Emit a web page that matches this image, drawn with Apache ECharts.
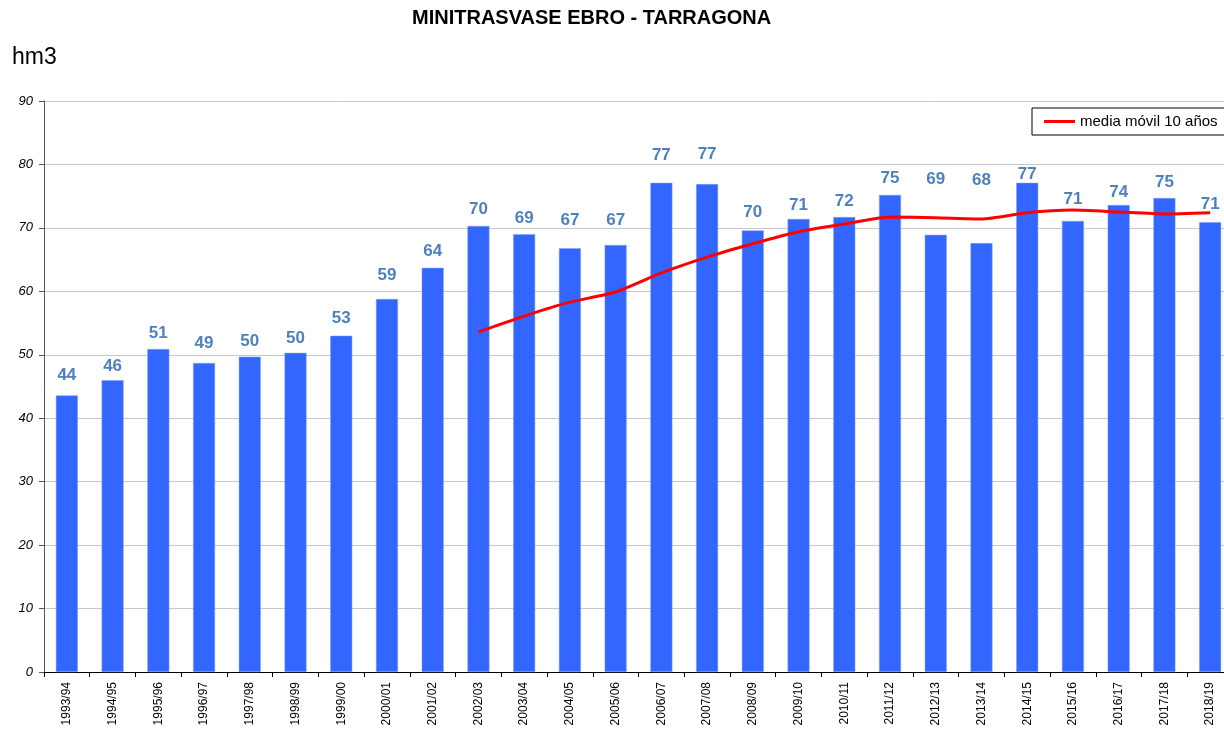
<!DOCTYPE html>
<html>
<head>
<meta charset="utf-8">
<script src="https://cdn.jsdelivr.net/npm/echarts@6/dist/echarts.min.js"></script>
<style>
  html, body { margin: 0; padding: 0; background: #fff; overflow: hidden; }
  #chart { width: 1240px; height: 732px; }
</style>
</head>
<body>
<div id="chart"></div>
<script>
// campañas hidrológicas
var campanas = ["1993/94","1994/95","1995/96","1996/97","1997/98","1998/99","1999/00","2000/01","2001/02","2002/03",
  "2003/04","2004/05","2005/06","2006/07","2007/08","2008/09","2009/10","2010/11","2011/12","2012/13",
  "2013/14","2014/15","2015/16","2016/17","2017/18","2018/19"];
// volumen anual (hm3)
var volumen = [43.6, 46.0, 50.9, 48.7, 49.7, 50.3, 53.0, 58.8, 63.7, 70.3,
  69.0, 66.8, 67.3, 77.1, 76.9, 69.6, 71.4, 71.7, 75.2, 68.9,
  67.6, 77.1, 71.1, 73.6, 74.7, 70.9];
// media movil 10 años
var mediaMovil = [null, null, null, null, null, null, null, null, null, 53.6,
  56.1, 58.3, 59.9, 62.9, 65.4, 67.5, 69.4, 70.6, 71.7, 71.6,
  71.4, 72.4, 72.8, 72.5, 72.2, 72.4];
var ejeY = [0, 10, 20, 30, 40, 50, 60, 70, 80, 90];

// separacion (px) entre la etiqueta y la barra, como en el original
var sepEtiqueta = [21, 15, 17, 21, 16, 16, 18, 25, 18, 18,
  17, 29, 26, 29, 31, 19, 15, 17, 18, 57,
  64, 10, 23, 14, 17, 19];

var datosBarras = volumen.map(function (v, i) {
  return { value: v, label: { distance: sepEtiqueta[i] - 9.5 } };
});

var myChart = echarts.init(document.getElementById("chart"));
var option = {
  animation: false,
  textStyle: { fontFamily: "Liberation Sans, Arial, sans-serif" },
  title: [
    {
      text: "MINITRASVASE EBRO - TARRAGONA",
      left: 407,
      top: 3,
      textStyle: { fontSize: 20, fontWeight: "bold", color: "#000" }
    },
    {
      text: "hm3",
      left: 7,
      top: 41,
      textStyle: { fontSize: 23, fontWeight: "normal", color: "#000" }
    }
  ],
  legend: {
    left: 1032,
    top: 108,
    data: [{ name: "media móvil 10 años", icon: "rect" }],
    itemWidth: 31,
    itemHeight: 3,
    itemGap: 4,
    padding: [6, 30, 6, 12],
    borderColor: "#000",
    borderWidth: 1,
    textStyle: { fontSize: 15, color: "#000" }
  },
  grid: {
    left: 44,
    top: 101,
    right: 7,
    bottom: 60,
    containLabel: false
  },
  xAxis: {
    type: "category",
    data: campanas,
    boundaryGap: true,
    axisLine: { lineStyle: { color: "#000", width: 1 } },
    axisTick: { show: true, alignWithLabel: false, length: 5, lineStyle: { color: "#000" } },
    axisLabel: { rotate: 90, interval: 0, fontSize: 12, color: "#000", margin: 10 }
  },
  yAxis: {
    type: "value",
    min: ejeY[0],
    max: ejeY[ejeY.length - 1],
    interval: 10,
    axisLine: { show: true, lineStyle: { color: "#555", width: 1 } },
    axisTick: { show: true, length: 5, lineStyle: { color: "#555" } },
    axisLabel: { fontSize: 13, fontStyle: "italic", color: "#000", margin: 11 },
    splitLine: { lineStyle: { color: "#c8c8c8", width: 1 } }
  },
  series: [
    {
      name: "volumen",
      type: "bar",
      data: datosBarras,
      barWidth: "48%",
      itemStyle: { color: "#3366FF", borderColor: "#7f9fff", borderWidth: 0.5 },
      label: {
        show: true,
        position: "top",
        fontSize: 17,
        fontWeight: "bold",
        color: "#4f81bd",
        formatter: function (p) { return Math.round(p.value); }
      }
    },
    {
      name: "media móvil 10 años",
      type: "line",
      data: mediaMovil,
      showSymbol: false,
      symbol: "none",
      smooth: 0.2,
      lineStyle: { color: "#ff0000", width: 3 },
      itemStyle: { color: "#ff0000" },
      z: 5
    }
  ]
};
myChart.setOption(option);
</script>
</body>
</html>
